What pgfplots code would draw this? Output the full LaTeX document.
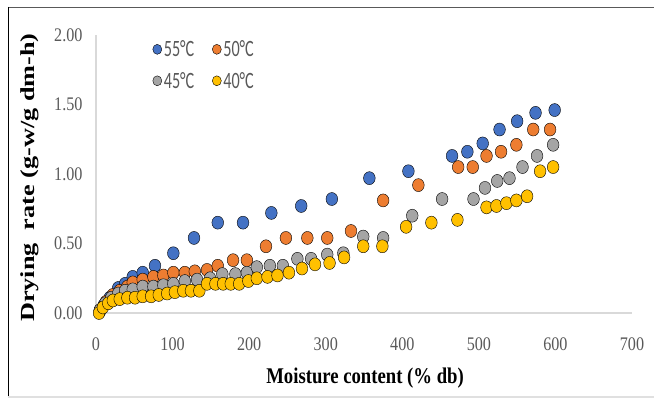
\documentclass[border=0pt]{standalone}
\usepackage{pgfplots}
\pgfplotsset{compat=1.18}
\usepackage{graphicx}
\usepackage{fontspec}
\setmainfont{Liberation Serif}
\newfontfamily\legfont{Carlito}
\definecolor{c55}{HTML}{4472C4}
\definecolor{c50}{HTML}{ED7D31}
\definecolor{c45}{HTML}{A5A5A5}
\definecolor{c40}{HTML}{FFC000}
\definecolor{tickgray}{HTML}{595959}
\definecolor{axgray}{HTML}{D9D9D9}
\begin{document}
\begin{tikzpicture}[x=1bp,y=1bp]
\path[use as bounding box] (0,0) rectangle (654,400);
\begin{axis}[
  at={(96bp,87bp)}, anchor=south west,
  scale only axis, width=536bp, height=278bp,
  xmin=0, xmax=700, ymin=0, ymax=2,
  xtick={0,100,...,700}, ytick={0,0.5,1,1.5,2},
  /pgf/number format/assume math mode=true,
  axis x line*=bottom, axis y line*=left,
  axis line style={-, draw=axgray, line width=1.2bp},
  major tick length=0,
  clip=false,
  xticklabel={\scalebox{0.95}[1.13]{\pgfmathprintnumber{\tick}}},
  yticklabel={\scalebox{0.95}[1.13]{\pgfmathprintnumber[fixed,fixed zerofill,precision=2]{\tick}}},
  xticklabel style={font=\fontsize{17bp}{20bp}\selectfont, text=tickgray, yshift=-21bp},
  yticklabel style={font=\fontsize{17bp}{20bp}\selectfont, text=tickgray, xshift=-10bp},
  xlabel={\scalebox{1}[1.2]{\bfseries Moisture content (\% db)}},
  ylabel={\scalebox{1.38}[1.05]{\bfseries Drying\ \ rate (g-w/g dm-h)}},
  every axis x label/.style={at={(axis description cs:0.502,-0.234)}, anchor=center, font=\fontsize{18.7bp}{22bp}\selectfont},
  every axis y label/.style={at={(axis description cs:-0.123,0.487)}, anchor=center, rotate=90, font=\fontsize{19bp}{22bp}\selectfont},
  legend columns=2,
  legend style={draw=none, fill=none, at={(axis description cs:0.10,0.995)}, anchor=north west,
    font=\legfont\fontsize{18bp}{22bp}\selectfont, text=tickgray,
    /tikz/every even column/.append style={column sep=16bp},
    row sep=10bp},
  legend image post style={mark size=5bp},
]
\addplot[only marks, mark=*, mark size=6.5bp, mark options={draw=none, fill=c55, xscale=0.9}] coordinates {
(5,0.01) (10,0.055) (18,0.11) (29,0.18) (38,0.21) (48,0.26) (61,0.29) (77,0.34) (101,0.43) (128,0.54)
(159,0.65) (192,0.65) (229,0.72) (268,0.77) (308,0.82) (357,0.97) (408,1.02) (465,1.13) (485,1.16)
(505,1.22) (527,1.32) (550,1.38) (574,1.44) (599,1.46)
};
\addlegendentry{\scalebox{0.9}[1.3]{55°C}}
\addplot[only marks, mark=*, mark size=6.5bp, mark options={draw=none, fill=c50, xscale=0.9}] coordinates {
(5,0.02) (13,0.08) (22,0.13) (31,0.16) (41,0.19) (48,0.22) (61,0.24) (75,0.26) (88,0.27) (101,0.29)
(116,0.29) (129,0.30) (145,0.31) (159,0.34) (179,0.38) (197,0.38) (222,0.48) (248,0.54) (276,0.54)
(302,0.54) (333,0.59) (375,0.81) (421,0.92) (473,1.05) (492,1.05) (510,1.13) (529,1.16) (549,1.21)
(571,1.32) (593,1.32)
};
\addlegendentry{\scalebox{0.9}[1.3]{50°C}}
\addplot[only marks, mark=*, mark size=6.5bp, mark options={draw=none, fill=c45, xscale=0.9}] coordinates {
(5,0.02) (12,0.07) (20,0.11) (29,0.14) (38,0.16) (48,0.17) (61,0.19) (75,0.19) (88,0.20) (101,0.21)
(116,0.23) (132,0.24) (149,0.25) (165,0.28) (182,0.28) (197,0.29) (210,0.33) (227,0.34) (244,0.34)
(263,0.39) (281,0.39) (302,0.42) (323,0.43) (349,0.55) (375,0.54) (413,0.70) (452,0.82) (493,0.82)
(508,0.90) (524,0.95) (540,0.97) (557,1.05) (576,1.13) (597,1.21)
};
\addlegendentry{\scalebox{0.9}[1.3]{45°C}}
\addplot[only marks, mark=*, mark size=6.5bp, mark options={draw=none, fill=c40, xscale=0.9}] coordinates {
(4,0.00) (9,0.04) (16,0.07) (22,0.09) (31,0.10) (41,0.11) (51,0.11) (61,0.12) (72,0.12) (82,0.13)
(93,0.14) (103,0.15) (114,0.16) (124,0.16) (135,0.16) (145,0.21) (156,0.21) (166,0.21) (176,0.21)
(187,0.21) (199,0.23) (210,0.25) (224,0.26) (237,0.27) (252,0.29) (269,0.32) (286,0.35) (305,0.36)
(324,0.40) (349,0.48) (374,0.48) (405,0.62) (438,0.65) (472,0.67) (510,0.76) (523,0.77) (536,0.79)
(549,0.81) (563,0.84) (580,1.02) (597,1.05)
};
\addlegendentry{\scalebox{0.9}[1.3]{40°C}}
\end{axis}
\draw[draw=black!65, line width=1.5bp] (8,392.5) -- (654,392.5);
\draw[draw=black, line width=1.2bp] (8.6,393) -- (8.6,3);
\draw[draw=black!12, line width=1.2bp] (8,3) -- (654,3);
\end{tikzpicture}
\end{document}
